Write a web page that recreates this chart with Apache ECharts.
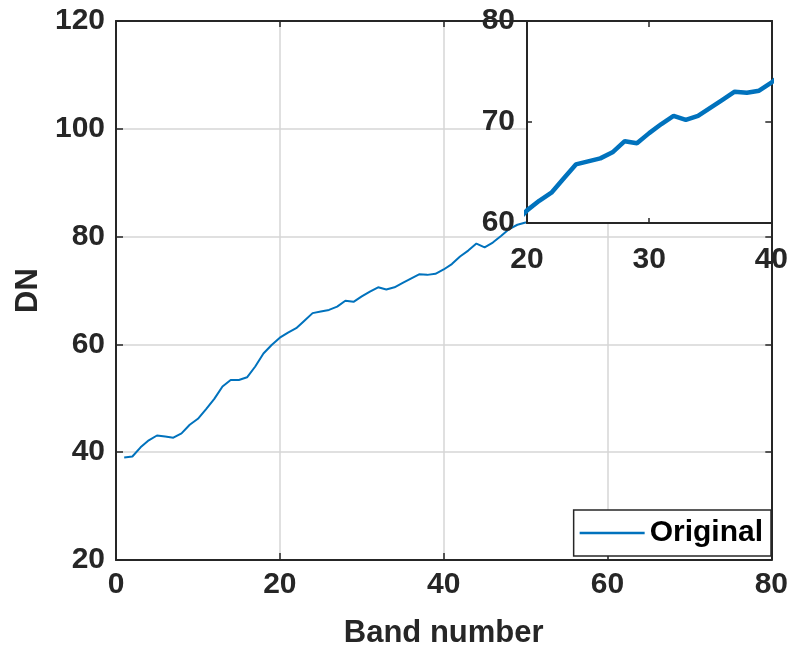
<!DOCTYPE html>
<html>
<head>
<meta charset="utf-8">
<script src="https://cdn.jsdelivr.net/npm/echarts@6/dist/echarts.min.js"></script>
<style>
html,body{margin:0;padding:0;background:#fff;}
#chart{width:791px;height:656px;}
</style>
</head>
<body>
<div id="chart"></div>
<script>
// Band numbers and DN values
const bands = [1,2,3,4,5,6,7,8,9,10,11,12,13,14,15,16,17,18,19,20,21,22,23,24,25,26,27,28,29,30,31,32,33,34,35,36,37,38,39,40,41,42,43,44,45,46,47,48,49,50,51];
const dn = [39.0,39.2,40.9,42.2,43.1,42.9,42.7,43.5,45.1,46.2,48.0,49.9,52.2,53.4,53.4,53.9,55.9,58.3,59.9,61.25,62.2,63.0,64.4,65.8,66.1,66.4,67.0,68.1,67.9,68.9,69.8,70.6,70.2,70.6,71.4,72.2,73.0,72.9,73.1,73.9,74.9,76.3,77.4,78.7,78.0,78.9,80.1,81.4,82.2,82.6,83.2];
const seriesName = 'Original';
const xTitle = 'Band number';
const yTitle = 'DN';

const pairs = bands.map((b, i) => [b, dn[i]]);

const FONT = '"Liberation Sans", Arial, Helvetica, sans-serif';
const AX = '#262626';
const lbl = {fontFamily: FONT, fontSize: 30, fontWeight: 'bold', color: '#262626'};

function boxAxis(gridIndex, pos, min, max, interval, z) {
  return {
    gridIndex, position: pos, type: 'value', min, max, interval, z,
    axisLine: {show: true, onZero: false, lineStyle: {color: AX, width: 2}},
    axisTick: {show: true, inside: true, length: 6, lineStyle: {color: AX, width: 1.5}},
    axisLabel: {show: false},
    splitLine: {show: false}
  };
}

const chart = echarts.init(document.getElementById('chart'), null, {renderer: 'canvas'});
chart.setOption({
  animation: false,
  backgroundColor: '#fff',
  grid: [
    {left: 116, right: 19, top: 21, bottom: 96, show: false, z: 0},
    {left: 527, right: 19, top: 21, bottom: 433, show: true, backgroundColor: '#fff', borderWidth: 0, z: 5}
  ],
  xAxis: [
    {gridIndex: 0, type: 'value', position: 'bottom', min: 0, max: 80, interval: 20,
     name: xTitle, nameLocation: 'middle', nameGap: 58,
     nameTextStyle: {fontFamily: FONT, fontSize: 31, fontWeight: 'bold', color: '#262626'},
     axisLine: {show: true, onZero: false, lineStyle: {color: AX, width: 2}},
     axisTick: {show: true, inside: true, length: 7, lineStyle: {color: AX, width: 1.5}},
     axisLabel: Object.assign({margin: 10}, lbl),
     splitLine: {show: true, lineStyle: {color: '#d6d6d6', width: 1.5}}},
    boxAxis(0, 'top', 0, 80, 20, 0),
    {gridIndex: 1, type: 'value', position: 'bottom', min: 20, max: 40, interval: 10, z: 6,
     axisLine: {show: true, onZero: false, lineStyle: {color: AX, width: 2}},
     axisTick: {show: true, inside: true, length: 5, lineStyle: {color: AX, width: 1.5}},
     axisLabel: Object.assign({margin: 22}, lbl),
     splitLine: {show: false}},
    boxAxis(1, 'top', 20, 40, 10, 6)
  ],
  yAxis: [
    {gridIndex: 0, type: 'value', position: 'left', min: 20, max: 120, interval: 20,
     name: yTitle, nameLocation: 'middle', nameGap: 70, nameRotate: 90,
     nameTextStyle: {fontFamily: FONT, fontSize: 31, fontWeight: 'bold', color: '#262626'},
     axisLine: {show: true, onZero: false, lineStyle: {color: AX, width: 2}},
     axisTick: {show: true, inside: true, length: 7, lineStyle: {color: AX, width: 1.5}},
     axisLabel: Object.assign({margin: 11}, lbl),
     splitLine: {show: true, lineStyle: {color: '#d6d6d6', width: 1.5}}},
    boxAxis(0, 'right', 20, 120, 20, 0),
    {gridIndex: 1, type: 'value', position: 'left', min: 60, max: 80, interval: 10, z: 6,
     axisLine: {show: true, onZero: false, lineStyle: {color: AX, width: 2}},
     axisTick: {show: true, inside: true, length: 5, lineStyle: {color: AX, width: 1.5}},
     axisLabel: Object.assign({margin: 12}, lbl),
     splitLine: {show: false}},
    boxAxis(1, 'right', 60, 80, 10, 6)
  ],
  legend: {
    data: [{name: seriesName, icon: 'rect'}],
    right: 20, bottom: 100,
    padding: [7, 8, 7, 6],
    itemWidth: 65, itemHeight: 2.5,
    backgroundColor: '#fff',
    borderColor: AX, borderWidth: 1.5, borderRadius: 0,
    textStyle: {fontFamily: FONT, fontSize: 30, fontWeight: 'bold', color: '#000', lineHeight: 32},
    z: 10
  },
  series: [
    {name: seriesName, type: 'line', xAxisIndex: 0, yAxisIndex: 0, data: pairs,
     symbol: 'none', smooth: false, z: 2,
     lineStyle: {color: '#0072BD', width: 2}, itemStyle: {color: '#0072BD'}},
    {name: 'inset', type: 'line', xAxisIndex: 2, yAxisIndex: 2, data: pairs,
     symbol: 'none', smooth: false, clip: true, z: 7,
     lineStyle: {color: '#0072BD', width: 4.5}, itemStyle: {color: '#0072BD'}}
  ]
});
</script>
</body>
</html>
